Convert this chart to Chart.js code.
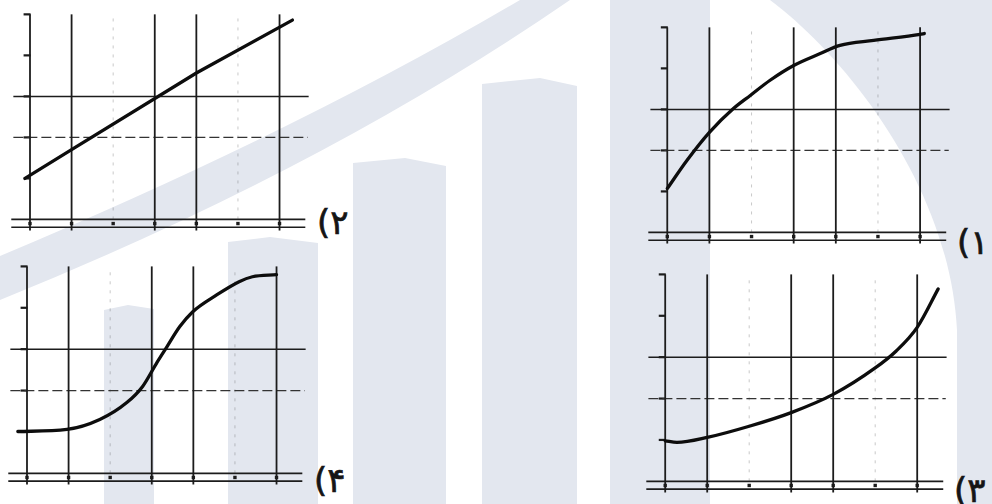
<!DOCTYPE html>
<html>
<head>
<meta charset="utf-8">
<script src="https://cdn.jsdelivr.net/npm/chart.js@4.4.1/dist/chart.umd.min.js"></script>
<style>
  body { margin: 0; width: 992px; height: 504px; position: relative; overflow: hidden; background: #fff; font-family: "DejaVu Sans", sans-serif; }
  svg.bg { position: absolute; left: 0; top: 0; }
  canvas { position: absolute; }
  .lbl { position: absolute; font-size: 34px; line-height: 1; color: #151515; white-space: nowrap;
         -webkit-text-stroke: 0.7px #151515; direction: ltr; unicode-bidi: bidi-override; }
</style>
</head>
<body>
<svg class="bg" width="992" height="504">
  <g fill="#e3e7ef">
    <path d="M0,256 Q296,132 520,0 L570,0 Q326,168 0,300 Z"/>
    <polygon points="104,310 128,305 154,309 154,504 104,504"/>
    <polygon points="228,242 270,237 318,243 318,504 228,504"/>
    <polygon points="353,163 405,158 446,166 446,504 353,504"/>
    <polygon points="482,84 540,78 577,86 577,504 482,504"/>
    <rect x="610" y="0" width="100" height="504"/>
    <path d="M770,0 C850,60 950,190 957,330 L957,504 L992,504 L992,0 Z"/>
  </g>
</svg>

<div class="lbl" style="left:957px;top:225px">(۱</div>
<div class="lbl" style="left:317px;top:205px">(۲</div>
<div class="lbl" style="left:954px;top:473px">(۳</div>
<div class="lbl" style="left:314px;top:463px">(۴</div>

<script>
  // grid / tick values shared by all four graphs
  const xTicks = [0, 1, 2, 3, 4, 5, 6];
  const yTicks = [1, 2, 3, 4, 5];
  const heavyX = [0, 1, 3, 4, 6];   // solid vertical lines
  const faintX = [2, 5];            // faint dotted verticals
  const solidY = [3];
  const dashedY = [2];

  // curve (1) top right
  const curve1X = [0, 0.47, 1, 1.57, 1.97, 2.44, 3, 3.63, 4.1, 4.9, 6, 6.1];
  const curve1Y = [1.07, 1.76, 2.44, 3.02, 3.34, 3.71, 4.07, 4.36, 4.56, 4.68, 4.83, 4.85];

  // line (2) top left
  const curve2X = [-0.12, 1, 4, 6.31];
  const curve2Y = [1.0, 1.7, 3.57, 4.86];

  // curve (3) bottom right
  const curve3X = [0, 0.28, 1, 2, 3, 4, 5, 5.5, 6, 6.5];
  const curve3Y = [0.98, 0.94, 1.06, 1.33, 1.66, 2.1, 2.74, 3.15, 3.72, 4.65];

  // curve (4) bottom left
  const curve4X = [-0.22, 0.96, 1.75, 2.4, 2.78, 3.12, 3.36, 3.67, 3.98, 4.56, 5.1, 5.42, 6];
  const curve4Y = [1.01, 1.06, 1.3, 1.71, 2.1, 2.67, 3.05, 3.54, 3.9, 4.31, 4.63, 4.75, 4.8];

  const PAD = 6;
  const INK = '#1c1c1c';

  // where each graph sits on the page: origin pixel and pixel per unit
  const panels = [
    { ox: 667, oy: 232, ux: 42.2, uy: 41,   xs: curve1X, ys: curve1Y, smooth: true },
    { ox: 30,  oy: 219, ux: 41.7, uy: 41,   xs: curve2X, ys: curve2Y, smooth: false },
    { ox: 665, oy: 482, ux: 42,   uy: 41.5, xs: curve3X, ys: curve3Y, smooth: true },
    { ox: 27,  oy: 474, ux: 41.7, uy: 41.5, xs: curve4X, ys: curve4Y, smooth: true }
  ];

  const X_MIN = -0.5, X_MAX = 6.8, Y_MIN = -0.35, Y_MAX = 5.15;

  function seg(x1, y1, x2, y2, opts) {
    return Object.assign({
      data: [{ x: x1, y: y1 }, { x: x2, y: y2 }],
      showLine: true,
      pointRadius: 0,
      borderColor: INK,
      borderWidth: 1.5,
      clip: false
    }, opts || {});
  }

  function buildDatasets(p) {
    const sets = [];

    sets.push({
      data: p.xs.map((x, i) => ({ x: x, y: p.ys[i] })),
      showLine: true,
      pointRadius: 0,
      borderColor: '#0d0d0d',
      borderWidth: 3.3,
      borderCapStyle: 'round',
      cubicInterpolationMode: p.smooth ? 'monotone' : 'default',
      tension: 0,
      clip: false
    });

    heavyX.forEach(x => sets.push(seg(x, -0.27, x, 5.0, { borderWidth: 1.8 })));
    faintX.forEach(x => sets.push(seg(x, 0, x, 4.9, {
      borderColor: 'rgba(60,60,60,0.28)', borderWidth: 1, borderDash: [3, 6]
    })));

    // double base line
    sets.push(seg(-0.45, 0, 6.62, 0, { borderWidth: 1.7 }));
    sets.push(seg(-0.45, -0.19, 6.62, -0.19, { borderWidth: 1.7 }));

    solidY.forEach(y => sets.push(seg(-0.4, y, 6.7, y, { borderWidth: 1.5 })));
    dashedY.forEach(y => sets.push(seg(-0.4, y, 6.68, y, {
      borderWidth: 1.3, borderDash: [10, 4], borderColor: '#333'
    })));

    // little ticks on the y axis
    sets.push({
      data: yTicks.map(v => ({ x: -0.07, y: v })),
      pointStyle: 'line', pointRadius: 3.5, borderColor: INK, borderWidth: 2.2,
      showLine: false, clip: false
    });
    // marks between the base lines
    sets.push({
      data: xTicks.map(v => ({ x: v, y: -0.1 })),
      pointStyle: 'rect', pointRadius: 2.4, backgroundColor: INK, borderColor: INK,
      borderWidth: 0, showLine: false, clip: false
    });

    return sets;
  }

  panels.forEach(p => {
    const left = p.ox + X_MIN * p.ux - PAD;
    const top = p.oy - Y_MAX * p.uy - PAD;
    const w = (X_MAX - X_MIN) * p.ux + 2 * PAD;
    const h = (Y_MAX - Y_MIN) * p.uy + 2 * PAD;

    const cv = document.createElement('canvas');
    cv.width = Math.round(w);
    cv.height = Math.round(h);
    cv.style.left = Math.round(left) + 'px';
    cv.style.top = Math.round(top) + 'px';
    cv.style.width = Math.round(w) + 'px';
    cv.style.height = Math.round(h) + 'px';
    document.body.appendChild(cv);

    new Chart(cv, {
      type: 'scatter',
      data: { datasets: buildDatasets(p) },
      options: {
        responsive: false,
        animation: false,
        devicePixelRatio: 1,
        layout: { padding: PAD },
        plugins: { legend: { display: false }, tooltip: { enabled: false } },
        scales: {
          x: { type: 'linear', min: X_MIN, max: X_MAX, display: false },
          y: { type: 'linear', min: Y_MIN, max: Y_MAX, display: false }
        }
      }
    });
  });
</script>
</body>
</html>
